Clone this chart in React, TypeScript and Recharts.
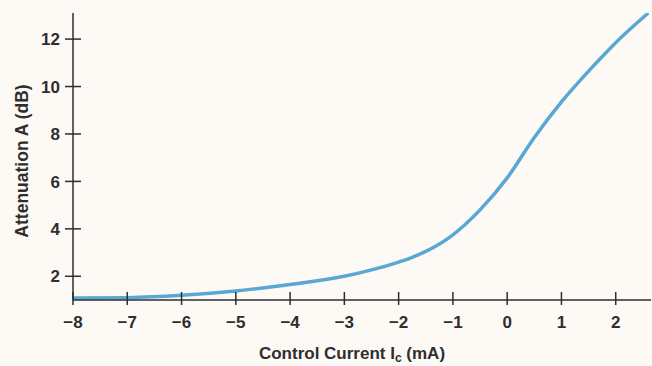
import React from 'react';
import { LineChart, Line, XAxis, YAxis } from 'recharts';

// control current (mA) and attenuation (dB)
const current = [-8, -7, -6, -5, -4, -3, -2.5, -2, -1.75, -1.5, -1, -0.5, 0, 0.5, 1, 1.5, 2, 2.6];
const attenuation = [1.08, 1.1, 1.2, 1.38, 1.65, 2.0, 2.27, 2.6, 2.8, 3.05, 3.75, 4.8, 6.15, 7.85, 9.35, 10.65, 11.85, 13.1];

const xTicks = [-8, -7, -6, -5, -4, -3, -2, -1, 0, 1, 2];
const yTicks = [2, 4, 6, 8, 10, 12];

const data = current.map((c, i) => ({ current: c, attenuation: attenuation[i] }));

const INK = '#2e2e2e';
const FONT = '"Liberation Sans", Arial, sans-serif';

const fmt = (v: number) => String(v).replace('-', '\u2212');

const XTick = ({ x, y, payload }: any) => (
  <g>
    <line x1={x} x2={x} y1={y - 8} y2={y + 5} stroke={INK} strokeWidth={1.5} />
    <text x={x} y={y + 28} textAnchor="middle" fill={INK} fontSize={17} fontWeight="bold" fontFamily={FONT}>
      {fmt(payload.value)}
    </text>
  </g>
);

const YTick = ({ x, y, payload }: any) => (
  <g>
    <line x1={x - 8} x2={x + 8} y1={y} y2={y} stroke={INK} strokeWidth={1.5} />
    <text x={x - 13} y={y} dy="0.36em" textAnchor="end" fill={INK} fontSize={17} fontWeight="bold" fontFamily={FONT}>
      {fmt(payload.value)}
    </text>
  </g>
);

const XTitle = ({ viewBox }: any) => (
  <text x={viewBox.x + viewBox.width / 2 - 10} y={359} textAnchor="middle" fill={INK} fontSize={17} fontWeight="bold" fontFamily={FONT}>
    Control Current I
    <tspan fontSize={12} dy={3}>c</tspan>
    <tspan dy={-3}> (mA)</tspan>
  </text>
);

const YTitle = () => (
  <text x={0} y={0} transform="translate(28,161) rotate(-90)" textAnchor="middle" fill={INK} fontSize={17.5} fontWeight="bold" fontFamily={FONT}>
    Attenuation A (dB)
  </text>
);

export default function App() {
  return (
    <div style={{ position: 'absolute', left: 0, top: 0, width: 652, height: 366, background: '#fdfaf5' }}>
      <LineChart width={652} height={366} data={data} margin={{ top: 13, right: 1, bottom: 0, left: 0 }}>
        <XAxis
          dataKey="current"
          type="number"
          domain={[-8, 2.65]}
          ticks={xTicks}
          allowDataOverflow
          height={66}
          tickSize={0}
          tickMargin={0}
          tickLine={false}
          tick={<XTick />}
          axisLine={{ stroke: INK, strokeWidth: 1.5 }}
          label={<XTitle />}
        />
        <YAxis
          dataKey="attenuation"
          type="number"
          domain={[1, 13.1]}
          ticks={yTicks}
          allowDataOverflow
          width={73}
          tickSize={0}
          tickMargin={0}
          tickLine={false}
          tick={<YTick />}
          axisLine={{ stroke: INK, strokeWidth: 1.5 }}
          label={<YTitle />}
        />
        <Line
          type="monotone"
          dataKey="attenuation"
          stroke="#5aa7d3"
          strokeWidth={3.5}
          dot={false}
          isAnimationActive={false}
        />
      </LineChart>
    </div>
  );
}
